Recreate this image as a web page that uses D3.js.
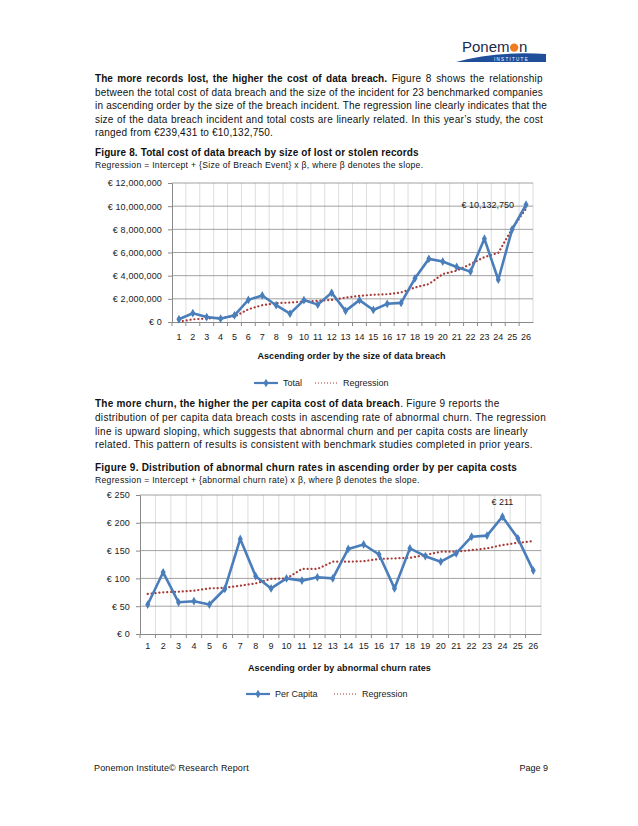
<!DOCTYPE html>
<html>
<head>
<meta charset="utf-8">
<script src="https://cdn.jsdelivr.net/npm/d3@7"></script>
<style>
  body { margin: 0; background: #fff; }
  svg { display: block; font-family: "Liberation Sans", Arial, sans-serif; }
</style>
</head>
<body>
<svg id="page" width="638" height="826"></svg>
<script>
// chart values
const categories = ["1","2","3","4","5","6","7","8","9","10","11","12","13","14","15","16","17","18","19","20","21","22","23","24","25","26"]

const totalCost = [239431, 760000, 430000, 290000, 580000, 1910000, 2290000, 1450000, 720000, 1890000, 1500000, 2520000, 960000, 1890000, 1040000, 1570000, 1650000, 3770000, 5450000, 5220000, 4750000, 4350000, 7190000, 3650000, 8000000, 10132750]
const totalRegression = [30000, 230000, 300000, 380000, 470000, 1100000, 1450000, 1620000, 1680000, 1770000, 1830000, 1910000, 2100000, 2260000, 2350000, 2400000, 2550000, 2980000, 3280000, 4140000, 4430000, 5000000, 5600000, 5970000, 8060000, 9800000]
const costTicks = [0, 2000000, 4000000, 6000000, 8000000, 10000000, 12000000]

const perCapita = [53, 111, 57, 59, 53, 81, 171, 104, 82, 100, 96, 102, 100, 153, 161, 143, 82, 154, 140, 130, 145, 175, 177, 211, 172, 114]
const perCapitaRegression = [72, 75, 76, 78, 82, 83, 87, 91, 99, 100, 117, 117, 130, 130, 131, 135, 136, 137, 142, 148, 148, 151, 154, 160, 164, 167]
const capitaTicks = [0, 50, 100, 150, 200, 250]

const blue = "#4a7ebb"
const red = "#a83a36"
const euro = v => "€ " + d3.format(",")(v)

const svg = d3.select("#page")

// logo, top right
const logo = svg.append("g")
logo.append("path")
  .attr("d", "M456,62 Q495,51 546,54 L546,62 Z")
  .attr("fill", "#1f4e9a")
const pon = logo.append("text")
  .attr("x", 462).attr("y", 52)
  .attr("font-size", 15).attr("fill", "#1c2a4a")
  .text("Ponem")
const ponW = pon.node().getComputedTextLength()
logo.append("circle")
  .attr("cx", 462 + ponW + 4.6).attr("cy", 47.6).attr("r", 4.2)
  .attr("fill", "#f07c1f")
logo.append("text")
  .attr("x", 462 + ponW + 9.4).attr("y", 52)
  .attr("font-size", 15).attr("fill", "#1c2a4a")
  .text("n")
logo.append("text")
  .attr("x", 494).attr("y", 60.6)
  .attr("font-size", 4.5).attr("fill", "#fff").attr("letter-spacing", 1.3)
  .text("INSTITUTE")

// a block of text lines; parts = [[text, bold], ...]
// o.justify: right edge for all lines but the last
function paragraph(x, y, lineH, lines, size, o) {
  lines.forEach((parts, i) => {
    const t = svg.append("text").attr("font-size", size).attr("fill", "#111")
      .attr("x", x).attr("y", y + i * lineH)
    parts.forEach(([s, bold]) => {
      const span = t.append("tspan").text(s)
        .attr("letter-spacing", bold ? o.boldSpacing : o.spacing)
      if (bold) span.attr("font-weight", "bold")
    })
    if (o.justify && i < lines.length - 1) {
      const w = t.node().getBBox().width
      const gaps = parts.map(p => p[0]).join("").split(" ").length - 1
      const extra = (o.justify - x - w) / gaps
      if (extra > 0) t.attr("word-spacing", extra)
    }
  })
}

paragraph(95, 82, 13.5, [
  [["The more records lost, the higher the cost of data breach.", true], [" Figure 8 shows the relationship"]],
  [["between the total cost of data breach and the size of the incident for 23 benchmarked companies"]],
  [["in ascending order by the size of the breach incident. The regression line clearly indicates that the"]],
  [["size of the data breach incident and total costs are linearly related. In this year’s study, the cost"]],
  [["ranged from €239,431 to €10,132,750."]]
], 10, { spacing: 0.2, boldSpacing: 0.03, justify: 543 })

paragraph(95, 156, 13, [[["Figure 8. Total cost of data breach by size of lost or stolen records", true]]], 10, { boldSpacing: 0.12 })
paragraph(95, 168, 13, [[["Regression = Intercept + {Size of Breach Event} x β, where β denotes the slope."]]], 8.6, { spacing: 0.3 })

paragraph(95, 407, 13.8, [
  [["The more churn, the higher the per capita cost of data breach", true], [". Figure 9 reports the"]],
  [["distribution of per capita data breach costs in ascending rate of abnormal churn.  The regression"]],
  [["line is upward sloping, which suggests that abnormal churn and per capita costs are linearly"]],
  [["related.  This pattern of results is consistent with benchmark studies completed in prior years."]]
], 10, { spacing: 0.3, boldSpacing: 0.22 })

paragraph(95, 471, 13, [[["Figure 9. Distribution of abnormal churn rates in ascending order by per capita costs", true]]], 10, { boldSpacing: 0.22 })
paragraph(95, 483, 13, [[["Regression = Intercept + {abnormal churn rate) x β, where β denotes the slope."]]], 8.6, { spacing: 0.3 })

function lineChart(o) {
  const g = svg.append("g")
  const x = d3.scaleBand().domain(categories).range([o.left, o.right])
  const y = d3.scaleLinear().domain([0, o.ticks[o.ticks.length - 1]]).range([o.bottom, o.top])
  const cx = c => x(c) + x.bandwidth() / 2

  // vertical gridlines on category boundaries
  g.selectAll(".vg")
    .data(categories.slice(1))
    .enter()
    .append("line")
    .attr("x1", d => x(d)).attr("x2", d => x(d))
    .attr("y1", o.top).attr("y2", o.bottom)
    .attr("stroke", "#d4d4d4").attr("stroke-width", 0.8)
  g.append("line")
    .attr("x1", o.right).attr("x2", o.right)
    .attr("y1", o.top).attr("y2", o.bottom)
    .attr("stroke", "#d4d4d4").attr("stroke-width", 0.8)

  // horizontal gridlines
  g.selectAll(".hg")
    .data(o.ticks.slice(1))
    .enter()
    .append("line")
    .attr("x1", o.left).attr("x2", o.right)
    .attr("y1", d => y(d)).attr("y2", d => y(d))
    .attr("stroke", "#8a8a8a").attr("stroke-width", 0.8)

  const yAxis = g.append("g")
    .attr("transform", `translate(${o.left},0)`)
    .call(d3.axisLeft(y).tickValues(o.ticks).tickFormat(euro).tickSize(4).tickPadding(6))
  yAxis.select(".domain").attr("stroke", "#8a8a8a")
  yAxis.selectAll(".tick line").attr("stroke", "#8a8a8a")
  yAxis.selectAll("text").attr("font-size", 9).attr("fill", "#222")
    .attr("font-family", "Liberation Sans, Arial, sans-serif")
    .attr("letter-spacing", 0.15)

  const xAxis = g.append("g")
    .attr("transform", `translate(0,${o.bottom})`)
    .call(d3.axisBottom(x).tickSize(0).tickPadding(o.xPad))
  xAxis.select(".domain").attr("stroke", "#8a8a8a")
  xAxis.selectAll("text").attr("font-size", 9).attr("fill", "#222")
    .attr("font-family", "Liberation Sans, Arial, sans-serif")
  // boundary tick marks
  g.selectAll(".xt")
    .data(categories)
    .enter()
    .append("line")
    .attr("x1", d => x(d)).attr("x2", d => x(d))
    .attr("y1", o.bottom).attr("y2", o.bottom + 4)
    .attr("stroke", "#8a8a8a")

  const line = d3.line().x((d, i) => cx(categories[i])).y(d => y(d))

  g.append("path")
    .attr("d", line(o.reg))
    .attr("fill", "none").attr("stroke", red)
    .attr("stroke-width", 2.2).attr("stroke-dasharray", "0.1 3.8")
    .attr("stroke-linecap", "round")

  g.append("path")
    .attr("d", line(o.values))
    .attr("fill", "none").attr("stroke", blue)
    .attr("stroke-width", 2.6).attr("stroke-linejoin", "round")

  const diamond = d3.symbol().type(d3.symbolDiamond).size(22)
  g.selectAll(".pt")
    .data(o.values)
    .enter()
    .append("path")
    .attr("d", diamond)
    .attr("transform", (d, i) => `translate(${cx(categories[i])},${y(d)})`)
    .attr("fill", blue)

  // value label on the highlighted point
  const li = o.labelIndex
  g.append("text")
    .attr("x", cx(categories[li]) + o.labelDx)
    .attr("y", y(o.values[li]) + o.labelDy)
    .attr("text-anchor", o.labelAnchor)
    .attr("font-size", 9).attr("fill", "#222")
    .text(euro(o.values[li]))

  g.append("text")
    .attr("x", (o.left + o.right) / 2 - 1)
    .attr("y", o.bottom + 37)
    .attr("text-anchor", "middle")
    .attr("font-size", 9).attr("font-weight", "bold").attr("fill", "#111")
    .attr("letter-spacing", 0.1)
    .text(o.title)

  // legend
  const ly = o.bottom + o.legendDy
  const lg = g.append("g")
  lg.append("line")
    .attr("x1", o.legendX).attr("x2", o.legendX + 24)
    .attr("y1", ly).attr("y2", ly)
    .attr("stroke", blue).attr("stroke-width", 2.2)
  lg.append("path")
    .attr("d", diamond)
    .attr("transform", `translate(${o.legendX + 12},${ly})`)
    .attr("fill", blue)
  lg.append("text")
    .attr("x", o.legendX + 29).attr("y", ly + 3.2)
    .attr("font-size", 9).attr("fill", "#222")
    .text(o.seriesName)
  lg.append("line")
    .attr("x1", o.regX).attr("x2", o.regX + 23)
    .attr("y1", ly).attr("y2", ly)
    .attr("stroke", red).attr("stroke-width", 1.2).attr("stroke-dasharray", "1 2")
  lg.append("text")
    .attr("x", o.regX + 28).attr("y", ly + 3.2)
    .attr("font-size", 9).attr("fill", "#222")
    .text("Regression")
}

lineChart({
  left: 172, right: 533, top: 183, bottom: 322,
  ticks: costTicks, values: totalCost, reg: totalRegression,
  labelIndex: 25, labelDx: -12, labelDy: 3, labelAnchor: "end", xPad: 12,
  title: "Ascending order by the size of data breach",
  legendX: 254, regX: 315, legendDy: 61, seriesName: "Total"
})

lineChart({
  left: 140, right: 541, top: 495, bottom: 634,
  ticks: capitaTicks, values: perCapita, reg: perCapitaRegression,
  labelIndex: 23, labelDx: 0, labelDy: -12, labelAnchor: "middle", xPad: 9,
  title: "Ascending order by abnormal churn rates",
  legendX: 246, regX: 334, legendDy: 60, seriesName: "Per Capita"
})

// footer
svg.append("text")
  .attr("x", 94).attr("y", 771)
  .attr("font-size", 9).attr("fill", "#111")
  .attr("letter-spacing", 0.15)
  .text("Ponemon Institute© Research Report")
svg.append("text")
  .attr("x", 548).attr("y", 771)
  .attr("text-anchor", "end")
  .attr("font-size", 9).attr("fill", "#111")
  .text("Page 9")
</script>
</body>
</html>
